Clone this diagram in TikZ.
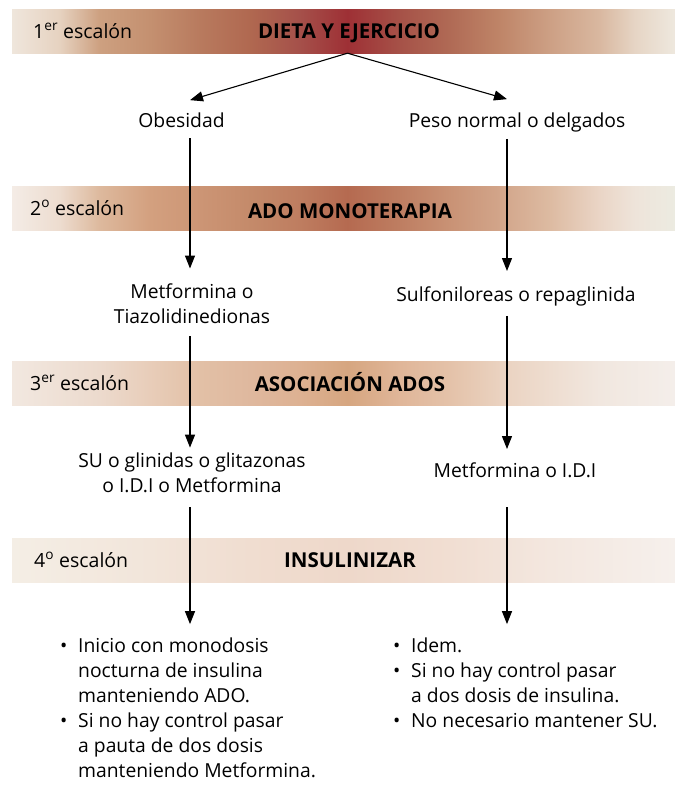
\documentclass[tikz,border=0pt]{standalone}
\usepackage{fontspec}
\setmainfont{Open Sans}
\usetikzlibrary{arrows.meta}
% bar 1 colours
\definecolor{ca1}{HTML}{EFE6DC}\definecolor{ca2}{HTML}{E6D2C0}\definecolor{ca3}{HTML}{CDA080}
\definecolor{ca4}{HTML}{C49070}\definecolor{ca5}{HTML}{B87A5E}\definecolor{ca6}{HTML}{B06850}
\definecolor{ca7}{HTML}{A5504A}\definecolor{ca8}{HTML}{9E3035}\definecolor{ca9}{HTML}{A65248}
\definecolor{ca10}{HTML}{B06A55}\definecolor{ca11}{HTML}{BF8568}\definecolor{ca12}{HTML}{CDA085}
\definecolor{ca13}{HTML}{D9B8A0}\definecolor{ca14}{HTML}{E6D5C5}\definecolor{ca15}{HTML}{EEE8DE}
% bar 2 colours
\definecolor{cb1}{HTML}{F4ECE6}\definecolor{cb2}{HTML}{EDDCCF}\definecolor{cb3}{HTML}{DDB99D}
\definecolor{cb4}{HTML}{D3A07F}\definecolor{cb5}{HTML}{CC9575}\definecolor{cb6}{HTML}{C48A6A}
\definecolor{cb7}{HTML}{BE7D60}\definecolor{cb8}{HTML}{B56A50}\definecolor{cb9}{HTML}{BE7E62}
\definecolor{cb10}{HTML}{C99275}\definecolor{cb11}{HTML}{D2A58A}\definecolor{cb12}{HTML}{DDBBA2}
\definecolor{cb13}{HTML}{EAD5C6}\definecolor{cb14}{HTML}{EEE4DA}\definecolor{cb15}{HTML}{ECEBE1}
% bar 3 colours
\definecolor{cc1}{HTML}{F2E8E0}\definecolor{cc2}{HTML}{ECDACD}\definecolor{cc3}{HTML}{E8CDB9}
\definecolor{cc4}{HTML}{E2C0A6}\definecolor{cc5}{HTML}{DFB89E}\definecolor{cc6}{HTML}{DDB192}
\definecolor{cc7}{HTML}{D6A680}\definecolor{cc8}{HTML}{E0B699}\definecolor{cc9}{HTML}{E4C2A9}
\definecolor{cc10}{HTML}{EAD2C0}\definecolor{cc11}{HTML}{EEDDD0}\definecolor{cc12}{HTML}{F1E7DF}
\definecolor{cc13}{HTML}{F4EEEA}
% bar 4 colours
\definecolor{cd1}{HTML}{F4EEE5}\definecolor{cd2}{HTML}{F2E5DA}\definecolor{cd3}{HTML}{F0DDD0}
\definecolor{cd4}{HTML}{EED8CA}\definecolor{cd5}{HTML}{F1DED2}\definecolor{cd6}{HTML}{F3E7DF}
\definecolor{cd7}{HTML}{F6F0EC}
\pgfdeclarehorizontalshading{shone}{100bp}{color(0bp)=(ca1); color(25bp)=(ca1); color(28.6bp)=(ca2);
 color(31.6bp)=(ca3); color(35.4bp)=(ca4); color(39.2bp)=(ca5); color(43bp)=(ca6); color(46.7bp)=(ca7);
 color(50.3bp)=(ca8); color(54.3bp)=(ca9); color(58bp)=(ca10); color(61.8bp)=(ca11); color(65.6bp)=(ca12);
 color(69.3bp)=(ca13); color(72bp)=(ca14); color(75bp)=(ca15); color(100bp)=(ca15)}
\pgfdeclarehorizontalshading{shtwo}{100bp}{color(0bp)=(cb1); color(25bp)=(cb1); color(28.6bp)=(cb2);
 color(31.6bp)=(cb3); color(35.4bp)=(cb4); color(39.2bp)=(cb5); color(43bp)=(cb6); color(46.7bp)=(cb7);
 color(50.3bp)=(cb8); color(54.3bp)=(cb9); color(58bp)=(cb10); color(61.8bp)=(cb11); color(65.6bp)=(cb12);
 color(69.3bp)=(cb13); color(72bp)=(cb14); color(75bp)=(cb15); color(100bp)=(cb15)}
\pgfdeclarehorizontalshading{shthree}{100bp}{color(0bp)=(cc1); color(25bp)=(cc1); color(31.6bp)=(cc2);
 color(35.4bp)=(cc3); color(39.2bp)=(cc4); color(43bp)=(cc5); color(46.7bp)=(cc6); color(50.3bp)=(cc7);
 color(54.3bp)=(cc8); color(58bp)=(cc9); color(61.8bp)=(cc10); color(65.6bp)=(cc11); color(69.3bp)=(cc12);
 color(75bp)=(cc13); color(100bp)=(cc13)}
\pgfdeclarehorizontalshading{shfour}{100bp}{color(0bp)=(cd1); color(25bp)=(cd1); color(35.4bp)=(cd2);
 color(43bp)=(cd3); color(50.3bp)=(cd4); color(58bp)=(cd5); color(65.6bp)=(cd6); color(75bp)=(cd7);
 color(100bp)=(cd7)}
\tikzset{
  barbox/.style={draw=none, inner sep=0pt, minimum width=663pt, minimum height=44pt},
  txt/.style={font=\fontsize{19.3}{24.5}\selectfont, inner sep=0pt, align=center, anchor=base},
  lbl/.style={font=\fontsize{20.5}{22}\selectfont\bfseries, inner sep=0pt, anchor=base},
  esc/.style={font=\fontsize{19.5}{22}\selectfont, inner sep=0pt, anchor=base west},
  blist/.style={font=\fontsize{19.3}{25}\selectfont, inner sep=0pt, align=left, anchor=base west},
  arr/.style={-{Triangle[length=13pt,width=10pt]}, line width=1.1pt},
}
\newcommand{\bul}{\makebox[18pt][l]{•}}
\newcommand{\ind}{\hspace*{18pt}}
\begin{document}
\begin{tikzpicture}[x=1pt,y=-1pt]
\useasboundingbox (0,0) rectangle (675,785);
% bars
\node[barbox, shading=shone] (b1) at (343.5,31) {};
\node[barbox, shading=shtwo] (b2) at (343.5,208) {};
\node[barbox, shading=shthree] (b3) at (343.5,383) {};
\node[barbox, shading=shfour] (b4) at (343.5,560) {};
% column guides
\coordinate (colL) at (190,0);
\coordinate (colR) at (507,0);
% step labels
\node[esc] (e1) at (33,38) {1\textsuperscript{er} escalón};
\node[esc] (e2) at (30,215.5) {2\textsuperscript{o} escalón};
\node[esc] (e3) at (30,390) {3\textsuperscript{er} escalón};
\node[esc] (e4) at (34,567) {4\textsuperscript{o} escalón};
\node[lbl] (l1) at (349,38) {DIETA Y EJERCICIO};
\node[lbl] (l2) at (350,218.5) {ADO MONOTERAPIA};
\node[lbl] (l3) at (350,391.5) {ASOCIACIÓN ADOS};
\node[lbl] (l4) at (350,567.5) {INSULINIZAR};
% texts
\node[txt] (obes) at (181.5,127) {Obesidad};
\node[txt] (peso) at (517,127) {Peso normal o delgados};
\node[txt] (metf) at (192,323) {Metformina o\\Tiazolidinedionas};
\node[txt] (sulf) at (516,301) {Sulfoniloreas o repaglinida};
\node[txt] (suog) at (192,492) {SU o glinidas o glitazonas\\o I.D.I o Metformina};
\node[txt] (metr) at (515,477) {Metformina o I.D.I};
\node[blist] (bl) at (60,777) {\bul Inicio con monodosis\\\ind nocturna de insulina\\\ind manteniendo ADO.\\\bul Si no hay control pasar\\\ind a pauta de dos dosis\\\ind manteniendo Metformina.};
\node[blist] (br) at (393,727) {\bul Idem.\\\bul Si no hay control pasar\\\ind a dos dosis de insulina.\\\bul No necesario mantener SU.};
% connectors
\draw[arr] ([xshift=4pt]b1.south) -- ([yshift=12pt]obes.north -| colL);
\draw[arr] ([xshift=4pt]b1.south) -- ([yshift=13pt]peso.north -| colR);
\draw[arr] ([yshift=-11pt]obes.south -| colL) -- ([yshift=15pt]metf.north -| colL);
\draw[arr] ([yshift=-7pt]peso.south -| colR) -- ([yshift=15pt]sulf.north -| colR);
\draw[arr] ([yshift=-13pt]metf.south -| colL) -- ([yshift=5pt]suog.north -| colL);
\draw[arr] ([yshift=-10pt]sulf.south -| colR) -- ([yshift=13pt]metr.north -| colR);
\draw[arr] ([yshift=-15pt]suog.south -| colL) -- ([yshift=13pt]bl.north -| colL);
\draw[arr] ([yshift=-30pt]metr.south -| colR) -- ([yshift=13pt]br.north -| colR);
\end{tikzpicture}
\end{document}
